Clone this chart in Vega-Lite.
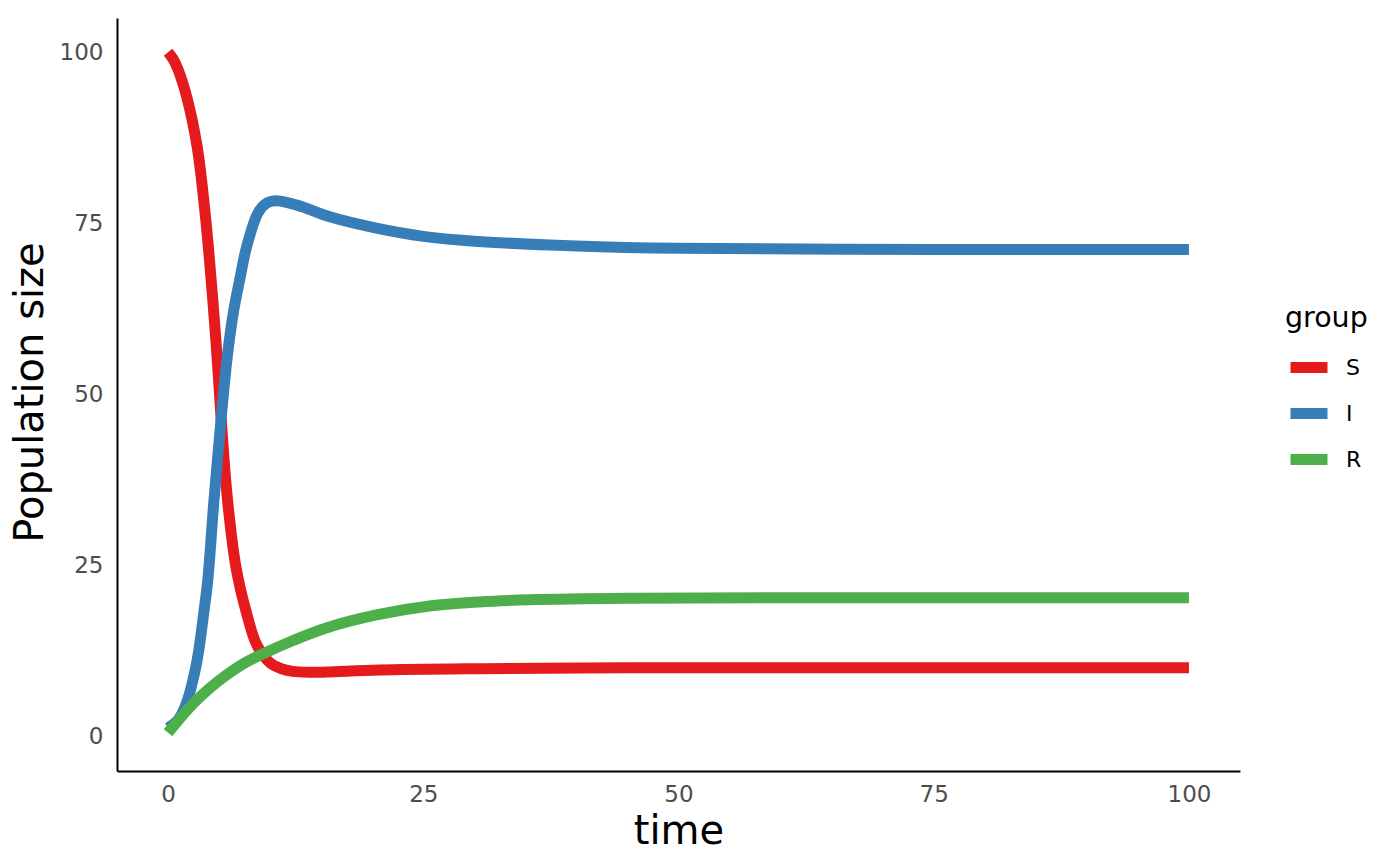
{
  "$schema": "https://vega.github.io/schema/vega-lite/v6.json",
  "autosize": {"type": "none"},
  "width": 1123,
  "height": 753,
  "padding": {"left": 117, "top": 18, "right": 160, "bottom": 95},
  "background": "white",
  "config": {
    "view": {"stroke": null},
    "font": "DejaVu Sans",
    "axis": {
      "grid": false,
      "domainColor": "black",
      "domainWidth": 2,
      "ticks": false,
      "labelFont": "DejaVu Sans",
      "labelFontSize": 23,
      "labelColor": "#4D4D4D",
      "titleFont": "DejaVu Sans",
      "titleFontSize": 40,
      "titleFontWeight": "normal",
      "titleColor": "black"
    },
    "legend": {
      "titleFont": "DejaVu Sans",
      "titleFontSize": 28.5,
      "titleFontWeight": "normal",
      "titleColor": "black",
      "labelFont": "DejaVu Sans",
      "labelFontSize": 22,
      "labelColor": "black"
    }
  },
  "data": {
    "values": [
      {"time": 0, "value": 100, "group": "S"},
      {"time": 0.5, "value": 99, "group": "S"},
      {"time": 1, "value": 97.4, "group": "S"},
      {"time": 1.86, "value": 93.3, "group": "S"},
      {"time": 2.84, "value": 86.3, "group": "S"},
      {"time": 3.65, "value": 76.2, "group": "S"},
      {"time": 4.4, "value": 63.5, "group": "S"},
      {"time": 4.8, "value": 55.5, "group": "S"},
      {"time": 5.2, "value": 46.5, "group": "S"},
      {"time": 5.8, "value": 35, "group": "S"},
      {"time": 6.65, "value": 24.8, "group": "S"},
      {"time": 7.7, "value": 18, "group": "S"},
      {"time": 8.7, "value": 13.4, "group": "S"},
      {"time": 10, "value": 10.8, "group": "S"},
      {"time": 11, "value": 10, "group": "S"},
      {"time": 12.2, "value": 9.55, "group": "S"},
      {"time": 14, "value": 9.42, "group": "S"},
      {"time": 15.5, "value": 9.45, "group": "S"},
      {"time": 20.7, "value": 9.75, "group": "S"},
      {"time": 30.5, "value": 9.95, "group": "S"},
      {"time": 45, "value": 10.08, "group": "S"},
      {"time": 60, "value": 10.1, "group": "S"},
      {"time": 80, "value": 10.1, "group": "S"},
      {"time": 100, "value": 10.1, "group": "S"},
      {"time": 0, "value": 1.3, "group": "I"},
      {"time": 1, "value": 2.5, "group": "I"},
      {"time": 1.8, "value": 4.9, "group": "I"},
      {"time": 2.8, "value": 10.8, "group": "I"},
      {"time": 3.5, "value": 18.1, "group": "I"},
      {"time": 3.9, "value": 23, "group": "I"},
      {"time": 4.47, "value": 34, "group": "I"},
      {"time": 5.2, "value": 46.5, "group": "I"},
      {"time": 5.8, "value": 55.5, "group": "I"},
      {"time": 6.4, "value": 62, "group": "I"},
      {"time": 7.05, "value": 67, "group": "I"},
      {"time": 7.7, "value": 71.6, "group": "I"},
      {"time": 8.8, "value": 76.5, "group": "I"},
      {"time": 9.6, "value": 77.9, "group": "I"},
      {"time": 10.5, "value": 78.3, "group": "I"},
      {"time": 11.8, "value": 78, "group": "I"},
      {"time": 13.2, "value": 77.4, "group": "I"},
      {"time": 15.85, "value": 75.95, "group": "I"},
      {"time": 20.4, "value": 74.3, "group": "I"},
      {"time": 25, "value": 73.1, "group": "I"},
      {"time": 30, "value": 72.4, "group": "I"},
      {"time": 40, "value": 71.7, "group": "I"},
      {"time": 50, "value": 71.35, "group": "I"},
      {"time": 75, "value": 71.2, "group": "I"},
      {"time": 100, "value": 71.2, "group": "I"},
      {"time": 0, "value": 0.6, "group": "R"},
      {"time": 1, "value": 2.4, "group": "R"},
      {"time": 2.5, "value": 4.9, "group": "R"},
      {"time": 4, "value": 7, "group": "R"},
      {"time": 5.7, "value": 9, "group": "R"},
      {"time": 7.3, "value": 10.6, "group": "R"},
      {"time": 9, "value": 11.9, "group": "R"},
      {"time": 12.3, "value": 14.1, "group": "R"},
      {"time": 15.5, "value": 15.9, "group": "R"},
      {"time": 20.4, "value": 17.8, "group": "R"},
      {"time": 25.6, "value": 19.1, "group": "R"},
      {"time": 30.5, "value": 19.7, "group": "R"},
      {"time": 35.4, "value": 20, "group": "R"},
      {"time": 45, "value": 20.22, "group": "R"},
      {"time": 60, "value": 20.3, "group": "R"},
      {"time": 100, "value": 20.3, "group": "R"}
    ]
  },
  "mark": {"type": "line", "strokeWidth": 11, "interpolate": "catmull-rom", "strokeCap": "butt"},
  "encoding": {
    "x": {
      "field": "time",
      "type": "quantitative",
      "scale": {"domain": [-5, 105], "nice": false, "zero": false},
      "axis": {"values": [0, 25, 50, 75, 100], "title": "time", "labelPadding": 12, "titleY": 72, "titleBaseline": "alphabetic"}
    },
    "y": {
      "field": "value",
      "type": "quantitative",
      "scale": {"domain": [-5, 105], "nice": false, "zero": false},
      "axis": {"values": [0, 25, 50, 75, 100], "title": "Population size", "labelPadding": 14, "titleX": -75, "titleY": 374, "titleBaseline": "alphabetic", "titleAngle": -90}
    },
    "color": {
      "field": "group",
      "type": "nominal",
      "sort": ["S", "I", "R"],
      "scale": {"domain": ["S", "I", "R"], "range": ["#E41A1C", "#377EB8", "#4DAF4A"]},
      "legend": {
        "title": "group",
        "orient": "none",
        "legendX": 1168,
        "legendY": 286,
        "symbolType": "stroke",
        "symbolSize": 1369,
        "symbolStrokeWidth": 11,
        "clipHeight": 46,
        "rowPadding": 0,
        "labelOffset": 13,
        "titlePadding": 12
      }
    },
    "order": {"field": "time", "type": "quantitative"}
  }
}
